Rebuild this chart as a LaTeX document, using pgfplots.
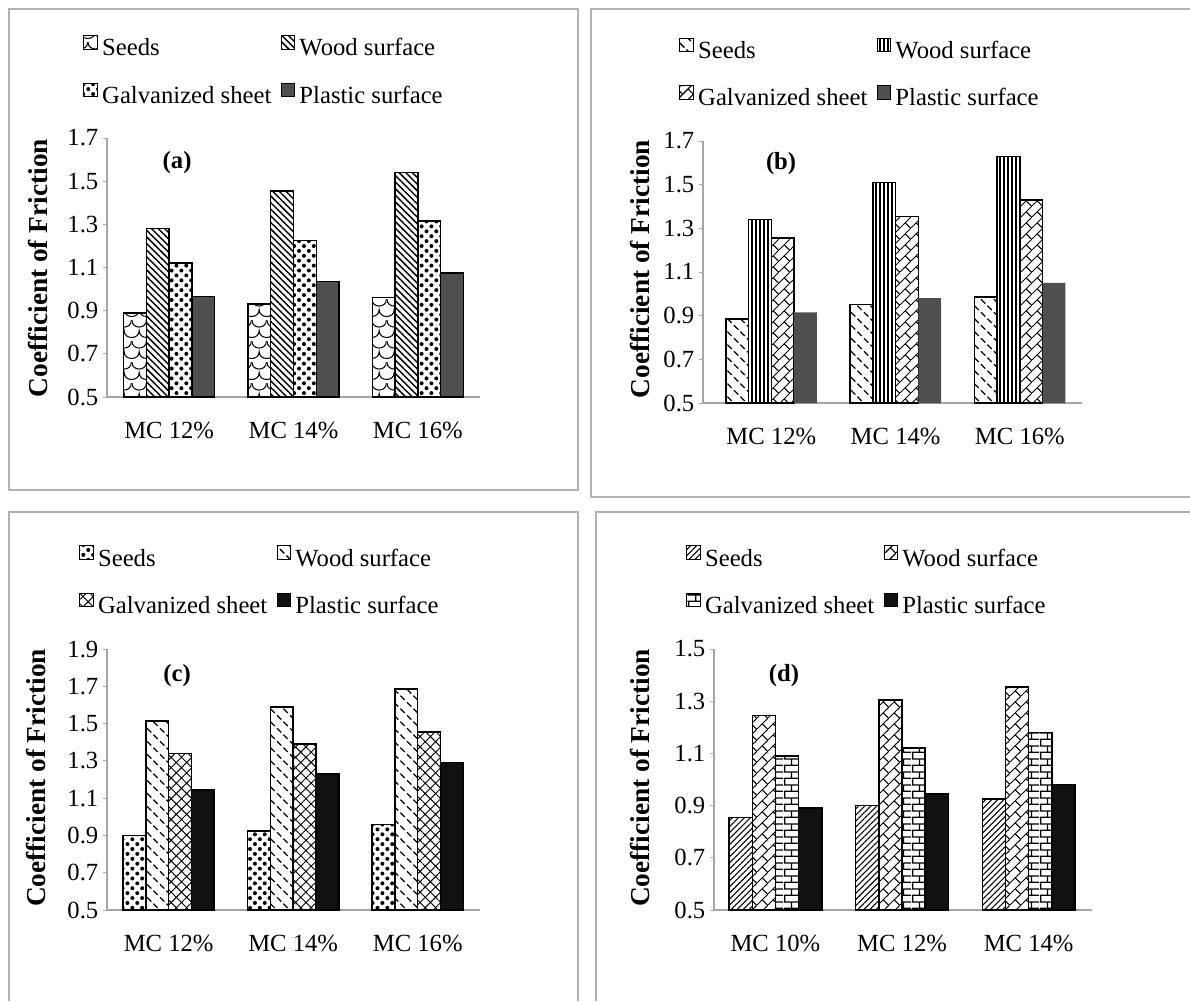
\documentclass[border=0pt]{standalone}
\usepackage{fontspec}
\setmainfont{Liberation Serif}
\usepackage{pgfplots}
\pgfplotsset{compat=1.18}
\usetikzlibrary{patterns,patterns.meta}

\pgfdeclarepatternformonly{scallop}{\pgfpoint{0pt}{0pt}}{\pgfpoint{11pt}{16pt}}{\pgfpoint{11pt}{16pt}}{%
  \pgfsetlinewidth{0.8pt}%
  \pgfpathmoveto{\pgfpoint{0pt}{16pt}}%
  \pgfpathcurveto{\pgfpoint{0pt}{9pt}}{\pgfpoint{11pt}{9pt}}{\pgfpoint{11pt}{16pt}}%
  \pgfpathmoveto{\pgfpoint{-5.5pt}{8pt}}%
  \pgfpathcurveto{\pgfpoint{-5.5pt}{1pt}}{\pgfpoint{5.5pt}{1pt}}{\pgfpoint{5.5pt}{8pt}}%
  \pgfpathcurveto{\pgfpoint{5.5pt}{1pt}}{\pgfpoint{16.5pt}{1pt}}{\pgfpoint{16.5pt}{8pt}}%
  \pgfusepath{stroke}}
\pgfdeclarepatternformonly{dashdiag}{\pgfpoint{0pt}{0pt}}{\pgfpoint{10pt}{10pt}}{\pgfpoint{10pt}{10pt}}{%
  \pgfsetlinewidth{1pt}%
  \pgfpathmoveto{\pgfpoint{0.8pt}{9.2pt}}\pgfpathlineto{\pgfpoint{4.2pt}{5.8pt}}%
  \pgfpathmoveto{\pgfpoint{5.8pt}{4.2pt}}\pgfpathlineto{\pgfpoint{9.2pt}{0.8pt}}%
  \pgfusepath{stroke}}
\pgfdeclarepatternformonly{diagbrick}{\pgfpoint{0pt}{0pt}}{\pgfpoint{8pt}{8pt}}{\pgfpoint{8pt}{8pt}}{%
  \pgfsetlinewidth{0.8pt}%
  \pgfpathmoveto{\pgfpoint{-1pt}{-1pt}}\pgfpathlineto{\pgfpoint{9pt}{9pt}}%
  \pgfpathmoveto{\pgfpoint{4pt}{4pt}}\pgfpathlineto{\pgfpoint{8.5pt}{-0.5pt}}%
  \pgfusepath{stroke}}
\pgfdeclarepatternformonly{hbricks}{\pgfpoint{0pt}{0pt}}{\pgfpoint{12pt}{10pt}}{\pgfpoint{12pt}{10pt}}{%
  \pgfsetlinewidth{1.1pt}%
  \pgfpathmoveto{\pgfpoint{0pt}{0.5pt}}\pgfpathlineto{\pgfpoint{12pt}{0.5pt}}%
  \pgfpathmoveto{\pgfpoint{0pt}{5.5pt}}\pgfpathlineto{\pgfpoint{12pt}{5.5pt}}%
  \pgfpathmoveto{\pgfpoint{6pt}{0.5pt}}\pgfpathlineto{\pgfpoint{6pt}{5.5pt}}%
  \pgfpathmoveto{\pgfpoint{0.5pt}{5.5pt}}\pgfpathlineto{\pgfpoint{0.5pt}{10pt}}%
  \pgfusepath{stroke}}

\definecolor{dgray}{HTML}{4F4F4F}
\definecolor{nblack}{HTML}{111111}
\newcommand{\bigfont}{\fontsize{18.5}{22}\selectfont}
\newcommand{\labfont}{\fontsize{20.5}{24}\selectfont}

\pgfplotsset{
  panel/.style={
    scale only axis, ybar=0pt, bar width=0.183,
    axis x line*=bottom, axis y line*=left,
    axis line style={draw=gray!70, line width=0.9pt, -},
    xtick={0,1,2}, major x tick style={draw=none},
    ymin=0.5,
    tick align=outside, major tick length=3pt,
    major y tick style={draw=gray!70, line width=0.7pt},
    tick label style={font=\bigfont},
    xticklabel style={yshift=-12pt},
    yticklabel style={/pgf/number format/fixed, /pgf/number format/fixed zerofill,
      /pgf/number format/precision=1, /pgf/number format/assume math mode=true},
    ylabel={\bfseries Coefficient of Friction},
    label style={font=\labfont},
    legend columns=2,
    legend cell align=left,
    legend style={draw=none, fill=none, font=\bigfont, anchor=north west,
      inner sep=0pt, nodes={inner sep=1pt},
      /tikz/every odd column/.append style={column sep=2.5pt},
      /tikz/every even column/.append style={column sep=6pt},
      /tikz/row sep=17.5pt},
  },
  myleg/.style={legend image code/.code={%
      \draw[##1, line width=0.6pt] (0pt,-0.5pt) rectangle (10pt,9.5pt);}},
  bar/.style={draw=black, line width=1.1pt, fill=white, myleg},
}

\begin{document}
\begin{tikzpicture}[x=0.75pt,y=-0.75pt]
\path[use as bounding box] (0,0) rectangle (1190,1001);
\draw[gray!60, line width=0.8pt] (9,9) rectangle (578,490);
\draw[gray!60, line width=0.8pt] (1190,9) -- (591,9) -- (591,497) -- (1190,497);
\draw[gray!60, line width=0.8pt] (9,1001) -- (9,512) -- (578,512) -- (578,1001);
\draw[gray!60, line width=0.8pt] (596,1001) -- (596,512) -- (1190,512);

% (a)
\begin{axis}[panel, at={(80.25pt,-297.75pt)}, anchor=south west,
  width=279.75pt, height=194.25pt,
  xmin=-0.5, xmax=2.5, ymax=1.7, ytick={0.5,0.7,0.9,1.1,1.3,1.5,1.7},
  xticklabels={MC 12\%, MC 14\%, MC 16\%},
  ylabel style={at={(axis description cs:-0.185,0.498)}, anchor=center},
  legend style={at={(axis description cs:-0.064,1.398)}}]
\addplot[bar, postaction={pattern=scallop}] coordinates {(0,0.89) (1,0.93) (2,0.96)};
\addplot[bar, postaction={pattern={Lines[angle=-45,distance=3.5pt,line width=1.1pt]}}] coordinates {(0,1.28) (1,1.455) (2,1.54)};
\addplot[bar, postaction={pattern={Dots[radius=1.5pt,distance=5.2pt,angle=45]}}] coordinates {(0,1.12) (1,1.225) (2,1.315)};
\addplot[bar, fill=dgray] coordinates {(0,0.965) (1,1.035) (2,1.075)};
\legend{Seeds, Wood surface, Galvanized sheet, Plastic surface}
\node[font=\bigfont\bfseries] at (rel axis cs:0.188,0.907) {(a)};
\end{axis}

% (b)
\begin{axis}[panel, at={(527.25pt,-302.25pt)}, anchor=south west,
  width=284.25pt, height=196.5pt,
  xmin=-0.55, xmax=2.5, ymax=1.7, ytick={0.5,0.7,0.9,1.1,1.3,1.5,1.7},
  xticklabels={MC 12\%, MC 14\%, MC 16\%},
  ylabel style={at={(axis description cs:-0.166,0.511)}, anchor=center},
  legend style={at={(axis description cs:-0.063,1.395)}}]
\addplot[bar, postaction={pattern=dashdiag}] coordinates {(0,0.885) (1,0.95) (2,0.985)};
\addplot[bar, postaction={pattern={Lines[angle=90,distance=3pt,line width=1pt]}}] coordinates {(0,1.34) (1,1.51) (2,1.63)};
\addplot[bar, postaction={pattern=diagbrick}] coordinates {(0,1.255) (1,1.355) (2,1.43)};
\addplot[bar, draw=none, fill=dgray] coordinates {(0,0.915) (1,0.98) (2,1.05)};
\legend{Seeds, Wood surface, Galvanized sheet, Plastic surface}
\node[font=\bigfont\bfseries] at (rel axis cs:0.206,0.912) {(b)};
\end{axis}

% (c)
\begin{axis}[panel, at={(80.25pt,-682.5pt)}, anchor=south west,
  width=279.75pt, height=195.75pt,
  xmin=-0.495, xmax=2.5, ymax=1.9, ytick={0.5,0.7,0.9,1.1,1.3,1.5,1.7,1.9},
  xticklabels={MC 12\%, MC 14\%, MC 16\%},
  ylabel style={at={(axis description cs:-0.19,0.506)}, anchor=center},
  legend style={at={(axis description cs:-0.075,1.398)}}]
\addplot[bar, postaction={pattern={Dots[radius=1.5pt,distance=5.2pt,angle=45]}}] coordinates {(0,0.90) (1,0.925) (2,0.96)};
\addplot[bar, postaction={pattern=dashdiag}] coordinates {(0,1.515) (1,1.59) (2,1.685)};
\addplot[bar, postaction={pattern={Hatch[angle=45,distance=5.5pt,line width=0.7pt]}}] coordinates {(0,1.34) (1,1.39) (2,1.455)};
\addplot[bar, fill=nblack] coordinates {(0,1.145) (1,1.23) (2,1.29)};
\legend{Seeds, Wood surface, Galvanized sheet, Plastic surface}
\node[font=\bigfont\bfseries] at (rel axis cs:0.188,0.897) {(c)};
\end{axis}

% (d)
\begin{axis}[panel, at={(535.5pt,-682.5pt)}, anchor=south west,
  width=283.5pt, height=195.75pt,
  xmin=-0.485, xmax=2.5, ymax=1.5, ytick={0.5,0.7,0.9,1.1,1.3,1.5},
  xticklabels={MC 10\%, MC 12\%, MC 14\%},
  ylabel style={at={(axis description cs:-0.196,0.506)}, anchor=center},
  legend style={at={(axis description cs:-0.074,1.398)}}]
\addplot[bar, postaction={pattern={Lines[angle=45,distance=3.2pt,line width=0.8pt]}}] coordinates {(0,0.855) (1,0.90) (2,0.925)};
\addplot[bar, postaction={pattern=diagbrick}] coordinates {(0,1.245) (1,1.305) (2,1.355)};
\addplot[bar, postaction={pattern=hbricks}] coordinates {(0,1.09) (1,1.12) (2,1.18)};
\addplot[bar, fill=nblack] coordinates {(0,0.89) (1,0.945) (2,0.98)};
\legend{Seeds, Wood surface, Galvanized sheet, Plastic surface}
\node[font=\bigfont\bfseries] at (rel axis cs:0.185,0.90) {(d)};
\end{axis}
\end{tikzpicture}
\end{document}
